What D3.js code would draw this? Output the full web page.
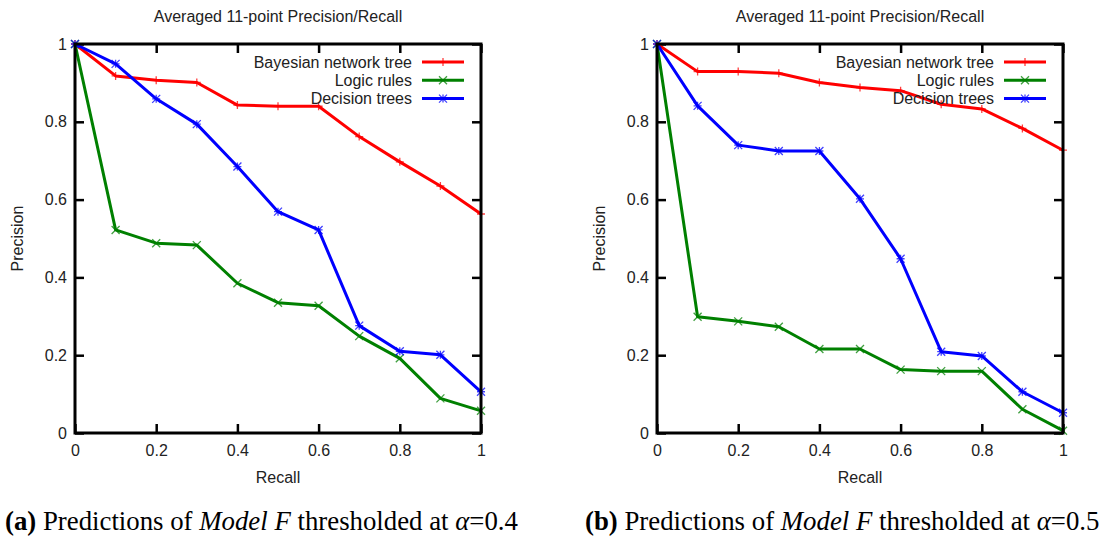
<!DOCTYPE html>
<html>
<head>
<meta charset="utf-8">
<script src="https://cdn.jsdelivr.net/npm/d3@7"></script>
<style>
  body { margin: 0; background: #fff; }
  svg text { font-family: "Liberation Sans", Arial, sans-serif; fill: #222; }
  .caption text, text.caption { font-family: "Liberation Serif", "Times New Roman", serif; fill: #000; }
</style>
</head>
<body>
<div id="chart"></div>
<script>
// data
const recall = [0, 0.1, 0.2, 0.3, 0.4, 0.5, 0.6, 0.7, 0.8, 0.9, 1];
const xTicks = [0, 0.2, 0.4, 0.6, 0.8, 1];
const yTicks = [0, 0.2, 0.4, 0.6, 0.8, 1];
const seriesNames = ['Bayesian network tree', 'Logic rules', 'Decision trees'];
const seriesColors = ['#ff0000', '#008000', '#0000ff'];
const seriesMarks = ['plus', 'cross', 'star'];

const bayesA = [1, 0.918, 0.907, 0.901, 0.843, 0.840, 0.840, 0.762, 0.697, 0.635, 0.563];
const logicA = [1, 0.522, 0.488, 0.483, 0.385, 0.335, 0.327, 0.249, 0.192, 0.089, 0.057];
const treesA = [1, 0.949, 0.859, 0.794, 0.685, 0.569, 0.522, 0.276, 0.210, 0.201, 0.106];

const bayesB = [1, 0.929, 0.929, 0.925, 0.901, 0.888, 0.880, 0.845, 0.833, 0.783, 0.727];
const logicB = [1, 0.299, 0.287, 0.273, 0.216, 0.216, 0.163, 0.159, 0.159, 0.061, 0.006];
const treesB = [1, 0.841, 0.740, 0.725, 0.725, 0.602, 0.448, 0.209, 0.198, 0.106, 0.052];

const chartTitle = 'Averaged 11-point Precision/Recall';
const xLabel = 'Recall';
const yLabel = 'Precision';
const captionA = [['(a)', 'bold', 'normal'], [' Predictions of ', 'normal', 'normal'], ['Model F', 'normal', 'italic'],
  [' thresholded at ', 'normal', 'normal'], ['\u03b1', 'normal', 'italic'], ['=0.4', 'normal', 'normal']];
const captionB = [['(b)', 'bold', 'normal'], [' Predictions of ', 'normal', 'normal'], ['Model F', 'normal', 'italic'],
  [' thresholded at ', 'normal', 'normal'], ['\u03b1', 'normal', 'italic'], ['=0.5', 'normal', 'normal']];

const width = 1109;
const height = 537;

const svg = d3.select('#chart').append('svg')
  .attr('width', width)
  .attr('height', height);

const markPath = (type, s) => {
  if (type === 'plus') return `M${-s},0H${s}M0,${-s}V${s}`;
  if (type === 'cross') return `M${-s},${-s}L${s},${s}M${-s},${s}L${s},${-s}`;
  return `M${-s},0H${s}M0,${-s}V${s}M${-s},${-s}L${s},${s}M${-s},${s}L${s},${-s}`;
};

function panel(left, series, caption, captionX) {
  const top = 44, bottom = 433, right = left + 406;
  const x = d3.scaleLinear().domain([0, 1]).range([left, right]);
  const y = d3.scaleLinear().domain([0, 1]).range([bottom, top]);
  const g = svg.append('g');

  // title
  g.append('text')
    .attr('x', (left + right) / 2).attr('y', 22)
    .attr('text-anchor', 'middle')
    .attr('font-size', '16px')
    .text(chartTitle);

  // axes (gnuplot style: ticks inside, mirrored)
  const ax = g.append('g').attr('transform', `translate(0,${bottom})`)
    .call(d3.axisBottom(x).tickValues(xTicks).tickFormat(d3.format('~g')).tickSizeInner(-9).tickSizeOuter(0).tickPadding(12));
  const ay = g.append('g').attr('transform', `translate(${left},0)`)
    .call(d3.axisLeft(y).tickValues(yTicks).tickFormat(d3.format('~g')).tickSizeInner(-9).tickSizeOuter(0).tickPadding(8));
  const at = g.append('g').attr('transform', `translate(0,${top})`)
    .call(d3.axisTop(x).tickValues(xTicks).tickFormat('').tickSizeInner(-9).tickSizeOuter(0));
  const ar = g.append('g').attr('transform', `translate(${right},0)`)
    .call(d3.axisRight(y).tickValues(yTicks).tickFormat('').tickSizeInner(-9).tickSizeOuter(0));
  [ax, ay, at, ar].forEach(a => {
    a.select('.domain').remove();
    a.selectAll('line').attr('stroke', '#000').attr('stroke-width', 2.5);
    a.selectAll('text').attr('font-size', '16px').attr('fill', '#222').attr('font-family', '"Liberation Sans", Arial, sans-serif');
  });

  // axis labels
  g.append('text')
    .attr('x', (left + right) / 2).attr('y', 483)
    .attr('text-anchor', 'middle')
    .attr('font-size', '16px')
    .text(xLabel);
  g.append('text')
    .attr('transform', `translate(${left - 52},${(top + bottom) / 2}) rotate(-90)`)
    .attr('text-anchor', 'middle')
    .attr('font-size', '16px')
    .text(yLabel);

  // series
  const line = d3.line().x((d, i) => x(recall[i])).y(d => y(d));
  series.forEach((vals, k) => {
    g.append('path')
      .datum(vals)
      .attr('fill', 'none')
      .attr('stroke', seriesColors[k])
      .attr('stroke-width', 3)
      .attr('stroke-linejoin', 'round')
      .attr('d', line);
    g.selectAll(null)
      .data(vals)
      .enter().append('path')
      .attr('transform', (d, i) => `translate(${x(recall[i])},${y(d)})`)
      .attr('d', markPath(seriesMarks[k], 4))
      .attr('stroke', seriesColors[k])
      .attr('stroke-width', 1.3)
      .attr('opacity', 0.75);
  });

  // legend
  seriesNames.forEach((name, k) => {
    const ly = 62 + k * 18.3;
    g.append('text')
      .attr('x', right - 69).attr('y', ly)
      .attr('dy', '0.35em')
      .attr('text-anchor', 'end')
      .attr('font-size', '16px')
      .text(name);
    g.append('line')
      .attr('x1', right - 59).attr('x2', right - 17)
      .attr('y1', ly).attr('y2', ly)
      .attr('stroke', seriesColors[k]).attr('stroke-width', 3);
    g.append('path')
      .attr('transform', `translate(${right - 38},${ly})`)
      .attr('d', markPath(seriesMarks[k], 4))
      .attr('stroke', seriesColors[k])
      .attr('stroke-width', 1.3)
      .attr('opacity', 0.75);
  });

  // border
  g.append('rect')
    .attr('x', left).attr('y', top)
    .attr('width', right - left).attr('height', bottom - top)
    .attr('fill', 'none')
    .attr('stroke', '#000')
    .attr('stroke-width', 3);

  // caption
  const cap = g.append('text')
    .attr('class', 'caption')
    .attr('x', captionX).attr('y', 530)
    .attr('font-size', '26.8px');
  caption.forEach(([t, w, s]) => {
    cap.append('tspan').attr('font-weight', w).attr('font-style', s).text(t);
  });
}

panel(75, [bayesA, logicA, treesA], captionA, 5);
panel(657, [bayesB, logicB, treesB], captionB, 585);
</script>
</body>
</html>
